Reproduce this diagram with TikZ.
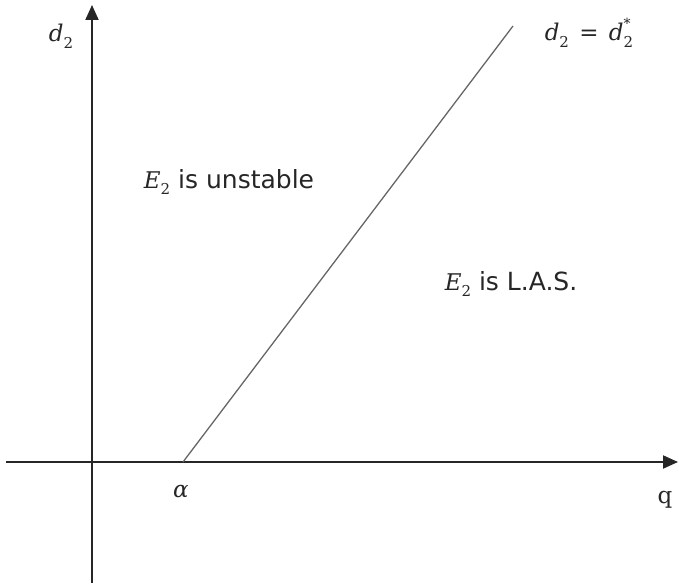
\documentclass[tikz,border=0pt]{standalone}
\usepackage{fontspec}
\setmainfont{DejaVu Sans}
\newfontfamily\mathserif{DejaVu Serif}
\usetikzlibrary{arrows.meta}
\newcommand{\mvar}[1]{{\mathserif\itshape #1}}
\newcommand{\lowidx}[1]{\raisebox{-0.3em}{\fontsize{15}{15}\selectfont\mathserif #1}}
\newcommand{\highidx}[1]{\raisebox{0.5em}{\fontsize{14}{14}\selectfont\mathserif #1}}
\begin{document}
\begin{tikzpicture}[x=1pt,y=-1pt,
  axis/.style={line width=2pt,black!85,-{Triangle[length=15pt,width=13pt]}},
  bound/.style={line width=1.3pt,black!60},
  lbl/.style={inner sep=0pt,text=black!85},
  mathlbl/.style={lbl,font=\fontsize{23}{27}\selectfont},
  txtlbl/.style={lbl,font=\fontsize{25}{29}\selectfont}]
\useasboundingbox (0,0) rectangle (679,588);
\coordinate (yb) at (92,583);
\coordinate (yt) at (92,5);
\coordinate (xl) at (6,462);
\coordinate (xr) at (678,462);
\coordinate (a) at (183,462);
\coordinate (t) at (513,26);
\draw[axis] (yb) -- (yt);
\draw[axis] (xl) -- (xr);
\draw[bound] (a) -- (t);
\node[mathlbl] (dl) at (61,36) {\mvar{d}\lowidx{2}};
\node[mathlbl] (cl) at (589,33) {\mvar{d}\lowidx{2}\hspace{0.45em}{\mathserif =}\hspace{0.45em}\mvar{d}\rlap{\highidx{*}}\lowidx{2}};
\node[txtlbl] (un) at (229,182) {{\fontsize{23}{27}\selectfont\mvar{E}\lowidx{2}} is unstable};
\node[txtlbl] (las) at (511,284) {{\fontsize{23}{27}\selectfont\mvar{E}\lowidx{2}} is L.A.S.};
\node[mathlbl] (al) at (181,492) {\mvar{α}};
\node[mathlbl] (q) at (665,500) {{\mathserif q}};
\end{tikzpicture}
\end{document}
